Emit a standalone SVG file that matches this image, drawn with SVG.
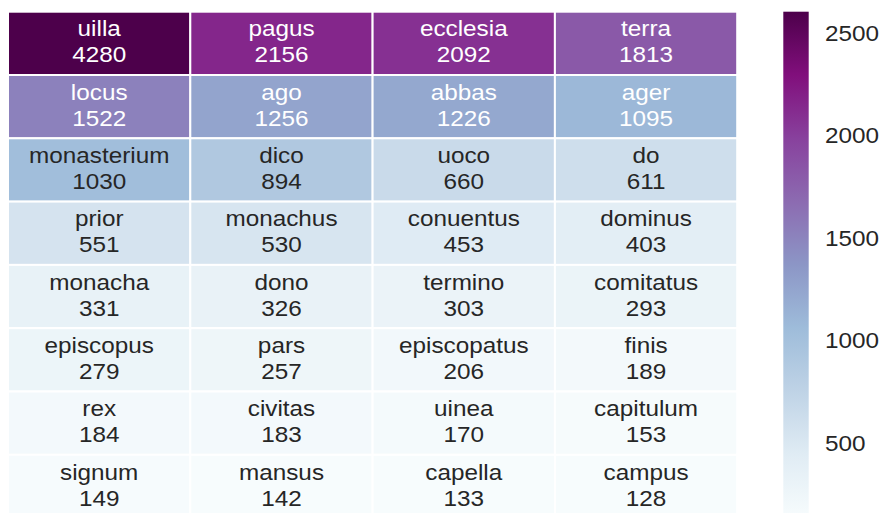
<svg xmlns="http://www.w3.org/2000/svg" width="879" height="513" viewBox="0 0 879 513">
<defs>
<linearGradient id="bupu" x1="0" y1="1" x2="0" y2="0">
<stop offset="0" stop-color="#f7fcfd"/>
<stop offset="0.125" stop-color="#e0ecf4"/>
<stop offset="0.25" stop-color="#bfd3e6"/>
<stop offset="0.375" stop-color="#9ebcda"/>
<stop offset="0.5" stop-color="#8c96c6"/>
<stop offset="0.625" stop-color="#8c6bb1"/>
<stop offset="0.75" stop-color="#88419d"/>
<stop offset="0.875" stop-color="#810f7c"/>
<stop offset="1" stop-color="#4d004b"/>
</linearGradient>
<style>
text{font-family:"Liberation Sans",Arial,sans-serif;font-size:21.5px;text-anchor:middle;fill:#262626;stroke:none}
.w text{fill:#ffffff}
text.tick{text-anchor:start}
rect.c{stroke:#ffffff;stroke-width:2}
</style>
</defs>
<rect width="879" height="513" fill="#ffffff"/>
<g id="heatmap">
<g id="cell-uilla" class="w"><rect class="c" x="8" y="11.7" width="182.3" height="63.3" fill="#4d004b"/><text transform="scale(1.13 1)" x="87.79" y="36.5">uilla</text><text transform="scale(1.13 1)" x="87.79" y="62.5">4280</text></g>
<g id="cell-pagus" class="w"><rect class="c" x="190.3" y="11.7" width="182.3" height="63.3" fill="#84268b"/><text transform="scale(1.13 1)" x="249.12" y="36.5">pagus</text><text transform="scale(1.13 1)" x="249.12" y="62.5">2156</text></g>
<g id="cell-ecclesia" class="w"><rect class="c" x="372.6" y="11.7" width="182.3" height="63.3" fill="#863092"/><text transform="scale(1.13 1)" x="410.44" y="36.5">ecclesia</text><text transform="scale(1.13 1)" x="410.44" y="62.5">2092</text></g>
<g id="cell-terra" class="w"><rect class="c" x="554.9" y="11.7" width="182.3" height="63.3" fill="#8a59a8"/><text transform="scale(1.13 1)" x="571.77" y="36.5">terra</text><text transform="scale(1.13 1)" x="571.77" y="62.5">1813</text></g>

<g id="cell-locus" class="w"><rect class="c" x="8" y="75" width="182.3" height="63.3" fill="#8c81bc"/><text transform="scale(1.13 1)" x="87.79" y="99.8">locus</text><text transform="scale(1.13 1)" x="87.79" y="125.8">1522</text></g>
<g id="cell-ago" class="w"><rect class="c" x="190.3" y="75" width="182.3" height="63.3" fill="#93a4cd"/><text transform="scale(1.13 1)" x="249.12" y="99.8">ago</text><text transform="scale(1.13 1)" x="249.12" y="125.8">1256</text></g>
<g id="cell-abbas" class="w"><rect class="c" x="372.6" y="75" width="182.3" height="63.3" fill="#94a8cf"/><text transform="scale(1.13 1)" x="410.44" y="99.8">abbas</text><text transform="scale(1.13 1)" x="410.44" y="125.8">1226</text></g>
<g id="cell-ager" class="w"><rect class="c" x="554.9" y="75" width="182.3" height="63.3" fill="#9cb8d8"/><text transform="scale(1.13 1)" x="571.77" y="99.8">ager</text><text transform="scale(1.13 1)" x="571.77" y="125.8">1095</text></g>

<g id="cell-monasterium"><rect class="c" x="8" y="138.3" width="182.3" height="63.3" fill="#a1bedb"/><text transform="scale(1.13 1)" x="87.79" y="163.1">monasterium</text><text transform="scale(1.13 1)" x="87.79" y="189.1">1030</text></g>
<g id="cell-dico"><rect class="c" x="190.3" y="138.3" width="182.3" height="63.3" fill="#b0c8e0"/><text transform="scale(1.13 1)" x="249.12" y="163.1">dico</text><text transform="scale(1.13 1)" x="249.12" y="189.1">894</text></g>
<g id="cell-uoco"><rect class="c" x="372.6" y="138.3" width="182.3" height="63.3" fill="#c9daea"/><text transform="scale(1.13 1)" x="410.44" y="163.1">uoco</text><text transform="scale(1.13 1)" x="410.44" y="189.1">660</text></g>
<g id="cell-do"><rect class="c" x="554.9" y="138.3" width="182.3" height="63.3" fill="#cedeec"/><text transform="scale(1.13 1)" x="571.77" y="163.1">do</text><text transform="scale(1.13 1)" x="571.77" y="189.1">611</text></g>

<g id="cell-prior"><rect class="c" x="8" y="201.6" width="182.3" height="63.3" fill="#d5e3ef"/><text transform="scale(1.13 1)" x="87.79" y="226.4">prior</text><text transform="scale(1.13 1)" x="87.79" y="252.4">551</text></g>
<g id="cell-monachus"><rect class="c" x="190.3" y="201.6" width="182.3" height="63.3" fill="#d7e5f0"/><text transform="scale(1.13 1)" x="249.12" y="226.4">monachus</text><text transform="scale(1.13 1)" x="249.12" y="252.4">530</text></g>
<g id="cell-conuentus"><rect class="c" x="372.6" y="201.6" width="182.3" height="63.3" fill="#dfebf4"/><text transform="scale(1.13 1)" x="410.44" y="226.4">conuentus</text><text transform="scale(1.13 1)" x="410.44" y="252.4">453</text></g>
<g id="cell-dominus"><rect class="c" x="554.9" y="201.6" width="182.3" height="63.3" fill="#e3eef5"/><text transform="scale(1.13 1)" x="571.77" y="226.4">dominus</text><text transform="scale(1.13 1)" x="571.77" y="252.4">403</text></g>

<g id="cell-monacha"><rect class="c" x="8" y="264.9" width="182.3" height="63.3" fill="#e8f2f7"/><text transform="scale(1.13 1)" x="87.79" y="289.7">monacha</text><text transform="scale(1.13 1)" x="87.79" y="315.7">331</text></g>
<g id="cell-dono"><rect class="c" x="190.3" y="264.9" width="182.3" height="63.3" fill="#e9f2f7"/><text transform="scale(1.13 1)" x="249.12" y="289.7">dono</text><text transform="scale(1.13 1)" x="249.12" y="315.7">326</text></g>
<g id="cell-termino"><rect class="c" x="372.6" y="264.9" width="182.3" height="63.3" fill="#ebf3f8"/><text transform="scale(1.13 1)" x="410.44" y="289.7">termino</text><text transform="scale(1.13 1)" x="410.44" y="315.7">303</text></g>
<g id="cell-comitatus"><rect class="c" x="554.9" y="264.9" width="182.3" height="63.3" fill="#ebf4f8"/><text transform="scale(1.13 1)" x="571.77" y="289.7">comitatus</text><text transform="scale(1.13 1)" x="571.77" y="315.7">293</text></g>

<g id="cell-episcopus"><rect class="c" x="8" y="328.2" width="182.3" height="63.3" fill="#ecf5f9"/><text transform="scale(1.13 1)" x="87.79" y="353">episcopus</text><text transform="scale(1.13 1)" x="87.79" y="379">279</text></g>
<g id="cell-pars"><rect class="c" x="190.3" y="328.2" width="182.3" height="63.3" fill="#eef6f9"/><text transform="scale(1.13 1)" x="249.12" y="353">pars</text><text transform="scale(1.13 1)" x="249.12" y="379">257</text></g>
<g id="cell-episcopatus"><rect class="c" x="372.6" y="328.2" width="182.3" height="63.3" fill="#f2f8fb"/><text transform="scale(1.13 1)" x="410.44" y="353">episcopatus</text><text transform="scale(1.13 1)" x="410.44" y="379">206</text></g>
<g id="cell-finis"><rect class="c" x="554.9" y="328.2" width="182.3" height="63.3" fill="#f3f9fb"/><text transform="scale(1.13 1)" x="571.77" y="353">finis</text><text transform="scale(1.13 1)" x="571.77" y="379">189</text></g>

<g id="cell-rex"><rect class="c" x="8" y="391.5" width="182.3" height="63.3" fill="#f3f9fc"/><text transform="scale(1.13 1)" x="87.79" y="416.3">rex</text><text transform="scale(1.13 1)" x="87.79" y="442.3">184</text></g>
<g id="cell-civitas"><rect class="c" x="190.3" y="391.5" width="182.3" height="63.3" fill="#f3f9fc"/><text transform="scale(1.13 1)" x="249.12" y="416.3">civitas</text><text transform="scale(1.13 1)" x="249.12" y="442.3">183</text></g>
<g id="cell-uinea"><rect class="c" x="372.6" y="391.5" width="182.3" height="63.3" fill="#f4fafc"/><text transform="scale(1.13 1)" x="410.44" y="416.3">uinea</text><text transform="scale(1.13 1)" x="410.44" y="442.3">170</text></g>
<g id="cell-capitulum"><rect class="c" x="554.9" y="391.5" width="182.3" height="63.3" fill="#f6fbfc"/><text transform="scale(1.13 1)" x="571.77" y="416.3">capitulum</text><text transform="scale(1.13 1)" x="571.77" y="442.3">153</text></g>

<g id="cell-signum"><rect class="c" x="8" y="454.8" width="182.3" height="63.3" fill="#f6fbfd"/><text transform="scale(1.13 1)" x="87.79" y="479.6">signum</text><text transform="scale(1.13 1)" x="87.79" y="505.6">149</text></g>
<g id="cell-mansus"><rect class="c" x="190.3" y="454.8" width="182.3" height="63.3" fill="#f7fcfd"/><text transform="scale(1.13 1)" x="249.12" y="479.6">mansus</text><text transform="scale(1.13 1)" x="249.12" y="505.6">142</text></g>
<g id="cell-capella"><rect class="c" x="372.6" y="454.8" width="182.3" height="63.3" fill="#f7fcfd"/><text transform="scale(1.13 1)" x="410.44" y="479.6">capella</text><text transform="scale(1.13 1)" x="410.44" y="505.6">133</text></g>
<g id="cell-campus"><rect class="c" x="554.9" y="454.8" width="182.3" height="63.3" fill="#f7fcfd"/><text transform="scale(1.13 1)" x="571.77" y="479.6">campus</text><text transform="scale(1.13 1)" x="571.77" y="505.6">128</text></g>
</g>
<g id="colorbar">
<rect x="783.3" y="11.7" width="25.4" height="506.3" fill="url(#bupu)"/>
<text class="tick" transform="scale(1.13 1)" x="730.09" y="41">2500</text>
<text class="tick" transform="scale(1.13 1)" x="730.09" y="143.5">2000</text>
<text class="tick" transform="scale(1.13 1)" x="730.09" y="246">1500</text>
<text class="tick" transform="scale(1.13 1)" x="730.09" y="348.5">1000</text>
<text class="tick" transform="scale(1.13 1)" x="730.09" y="451">500</text>
</g>
</svg>
